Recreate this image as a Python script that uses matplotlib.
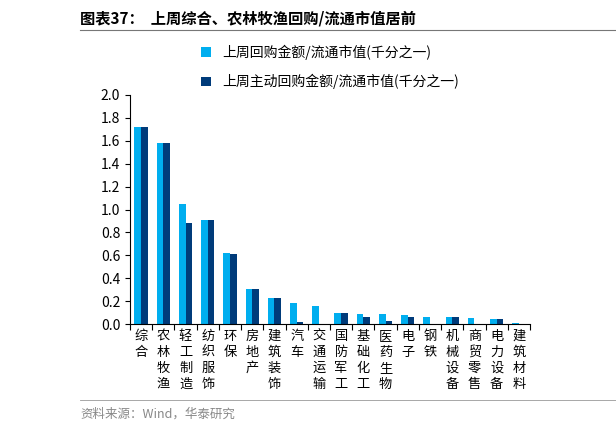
import matplotlib
matplotlib.use('Agg')
import matplotlib.pyplot as plt
import numpy as np

plt.rcParams['font.family'] = ['Noto Sans CJK SC', 'DejaVu Sans']

industries = ['综合', '农林牧渔', '轻工制造', '纺织服饰', '环保', '房地产', '建筑装饰', '汽车',
              '交通运输', '国防军工', '基础化工', '医药生物', '电子', '钢铁', '机械设备',
              '商贸零售', '电力设备', '建筑材料']
buyback = [1.72, 1.58, 1.05, 0.91, 0.62, 0.31, 0.23, 0.18, 0.16, 0.10, 0.09, 0.09,
           0.08, 0.065, 0.065, 0.055, 0.045, 0.01]
active = [1.72, 1.58, 0.88, 0.91, 0.61, 0.31, 0.23, 0.015, 0.0, 0.10, 0.06, 0.03,
          0.06, 0.0, 0.065, 0.0, 0.045, 0.0]

fig = plt.figure(figsize=(6.16, 4.34), dpi=100)
ax = fig.add_axes([130/616, 1-324/434, 400/616, 229/434])
x = np.arange(len(industries))
w = 0.3
ax.bar(x - w/2, buyback, w, color='#00AEEF', label='上周回购金额/流通市值(千分之一)')
ax.bar(x + w/2, active, w, color='#003B7A', label='上周主动回购金额/流通市值(千分之一)')
ax.set_xlim(-0.5, len(industries) - 0.5)
ax.set_ylim(0, 2.0)
ax.set_yticks(np.arange(0, 2.01, 0.2))
ax.set_yticklabels(['%.1f' % v for v in np.arange(0, 2.01, 0.2)], fontsize=10)
ax.set_xticks(np.arange(len(industries) + 1) - 0.5, minor=False)
ax.set_xticklabels([])
ax.tick_params(axis='x', length=4, direction='out')
for i, name in enumerate(industries):
    ax.text(i, -0.05, '\n'.join(name), ha='center', va='top', fontsize=9.5,
            linespacing=1.3)
for s in ['top', 'right']:
    ax.spines[s].set_visible(False)
ax.legend(loc='lower center', bbox_to_anchor=(0.5, 0.97), frameon=False,
          fontsize=10, handlelength=0.7, labelspacing=1.0, ncol=1)

fig.text(80/616, 1-18/434, '图表37：  上周综合、农林牧渔回购/流通市值居前', fontsize=11,
         fontweight='bold', va='center')
fig.add_artist(plt.Line2D([80/616, 1.0], [1-30/434, 1-30/434], color='#777777', lw=0.8))
fig.add_artist(plt.Line2D([80/616, 1.0], [1-400/434, 1-400/434], color='#999999', lw=0.6))
fig.text(80/616, 1-414/434, '资料来源：Wind，华泰研究', fontsize=9, color='#888888', va='center')

fig.savefig('out.png', dpi=100)
